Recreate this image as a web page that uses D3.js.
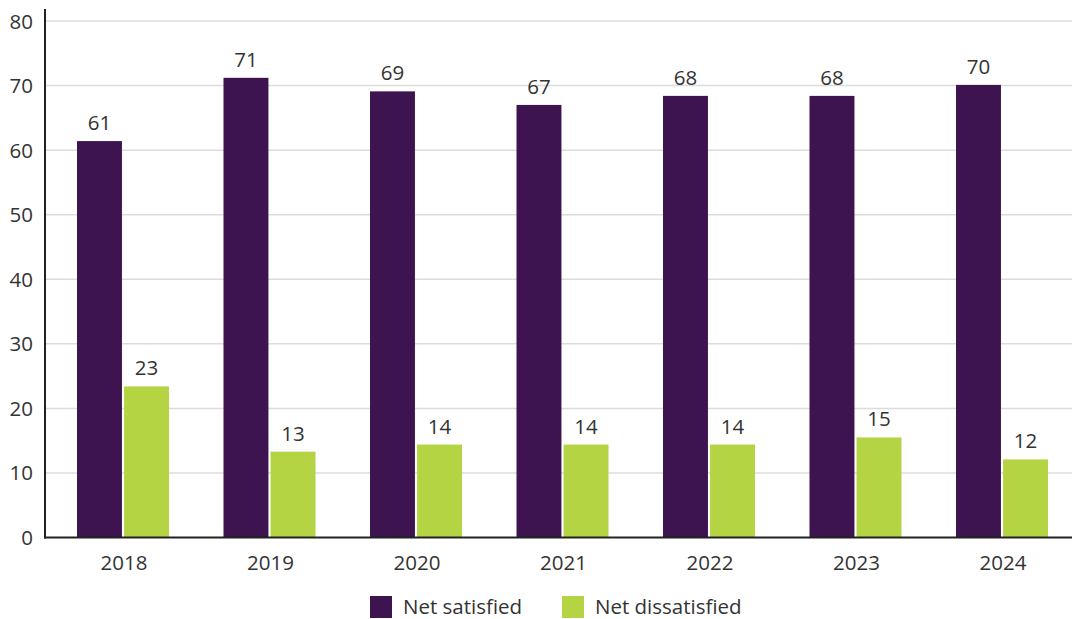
<!DOCTYPE html>
<html><head><meta charset="utf-8">
<script src="https://cdn.jsdelivr.net/npm/d3@7"></script>
<style>body{margin:0;background:#fff}svg{display:block}</style>
</head><body>
<svg id="c" width="1072" height="619"></svg>
<script>
const years = ["2018","2019","2020","2021","2022","2023","2024"];
const netSatisfied = [61.4, 71.2, 69.1, 67.0, 68.4, 68.4, 70.1];
const netDissatisfied = [23.4, 13.3, 14.4, 14.4, 14.4, 15.5, 12.1];
const satisfiedLabels = ["61","71","69","67","68","68","70"];
const dissatisfiedLabels = ["23","13","14","14","14","15","12"];
const seriesNames = ["Net satisfied","Net dissatisfied"];
const yTicks = [0,10,20,30,40,50,60,70,80];
const colors = ["#3d1350","#b5d443"];
const font = "'Open Sans', sans-serif";
const fs = 20.5;

const svg = d3.select("#c");
const y = d3.scaleLinear().domain([0,80]).range([537.5,21]);
const x0 = d3.scaleBand().domain(years).range([49.75,1075.25]);
const x1 = d3.scaleBand().domain(seriesNames).range([27.25,119.25]).paddingInner(0.045);

// gridlines
svg.append("g").selectAll("line").data(yTicks.filter(d=>d>0)).join("line")
  .attr("x1",45).attr("x2",1072).attr("y1",d=>y(d)).attr("y2",d=>y(d))
  .attr("stroke","#dcdcdc").attr("stroke-width",1.5);

// y labels
svg.append("g").selectAll("text").data(yTicks).join("text")
  .attr("x",33).attr("y",d=>y(d)+7.5).attr("text-anchor","end")
  .attr("font-family",font).attr("font-size",fs).attr("fill","#333").text(d=>d);

const data = years.map((yr,i)=>({yr, vals:[
  {k:seriesNames[0], v:netSatisfied[i], l:satisfiedLabels[i], c:colors[0]},
  {k:seriesNames[1], v:netDissatisfied[i], l:dissatisfiedLabels[i], c:colors[1]}]}));

const g = svg.append("g").selectAll("g").data(data).join("g")
  .attr("transform",d=>`translate(${x0(d.yr)},0)`);
g.selectAll("rect").data(d=>d.vals).join("rect")
  .attr("x",d=>x1(d.k)).attr("width",x1.bandwidth())
  .attr("y",d=>y(d.v)).attr("height",d=>y(0)-y(d.v)).attr("fill",d=>d.c);
g.selectAll("text").data(d=>d.vals).join("text")
  .attr("x",d=>x1(d.k)+x1.bandwidth()/2).attr("y",d=>y(d.v)-11)
  .attr("text-anchor","middle").attr("font-family",font).attr("font-size",fs).attr("fill","#333")
  .text(d=>d.l);

// x labels
svg.append("g").selectAll("text").data(years).join("text")
  .attr("x",d=>x0(d)+x0.bandwidth()/2+1).attr("y",570).attr("text-anchor","middle")
  .attr("font-family",font).attr("font-size",fs).attr("fill","#333").text(d=>d);

// axes lines
svg.append("line").attr("x1",45).attr("x2",45).attr("y1",9).attr("y2",538.5).attr("stroke","#222").attr("stroke-width",2);
svg.append("line").attr("x1",44).attr("x2",1072).attr("y1",537.5).attr("y2",537.5).attr("stroke","#222").attr("stroke-width",2);

// legend
const legX = [370,562];
const lg = svg.append("g").selectAll("g").data(seriesNames).join("g")
  .attr("transform",(d,i)=>`translate(${legX[i]},596)`);
lg.append("rect").attr("width",22).attr("height",22).attr("fill",(d,i)=>colors[i]);
lg.append("text").attr("x",33).attr("y",18).attr("font-family",font).attr("font-size",fs).attr("fill","#333").text(d=>d);
</script>
</body></html>
